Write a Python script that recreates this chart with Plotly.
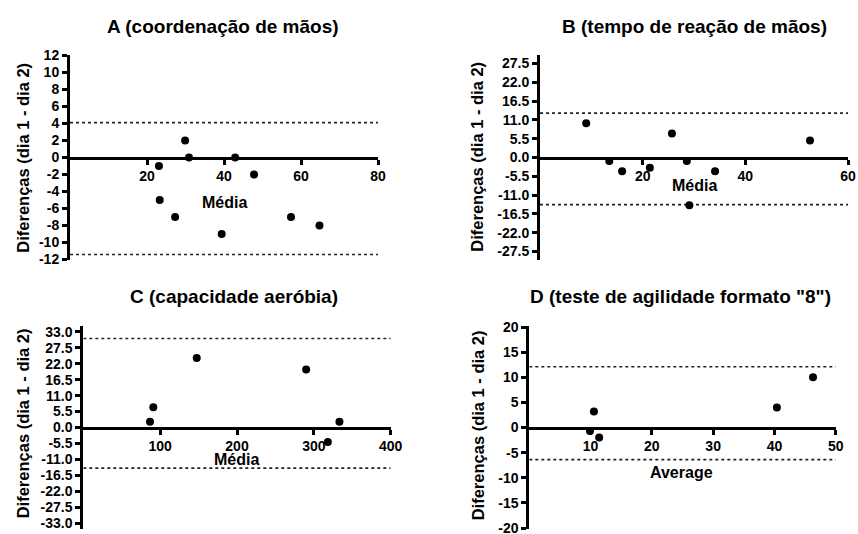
import plotly.graph_objects as go

# target picture size
W, H = 858, 534

# ---------------- data ----------------
A_title = "A (coordenação de mãos)"
A_x = [23.1, 23.3, 27.3, 29.9, 30.9, 39.4, 42.9, 47.8, 57.4, 64.8]
A_y = [-1, -5, -7, 2, 0, -9, 0, -2, -7, -8]
A_limits = [4.1, -11.4]
A_xticks = [20, 40, 60, 80]
A_yticks = [-12, -10, -8, -6, -4, -2, 0, 2, 4, 6, 8, 10, 12]

B_title = "B (tempo de reação de mãos)"
B_x = [9.0, 13.5, 16.0, 21.4, 25.7, 28.6, 29.1, 34.1, 52.6]
B_y = [10, -1, -4, -3, 7, -1, -14, -4, 5]
B_limits = [13.0, -13.8]
B_xticks = [20, 40, 60]
B_yticks = [-27.5, -22.0, -16.5, -11.0, -5.5, 0.0, 5.5, 11.0, 16.5, 22.0, 27.5]

C_title = "C (capacidade aeróbia)"
C_x = [86.8, 91.1, 147.6, 290.0, 318.2, 333.3]
C_y = [2, 7, 24, 20, -5, 2]
C_limits = [30.7, -14.0]
C_xticks = [100, 200, 300, 400]
C_yticks = [-33.0, -27.5, -22.0, -16.5, -11.0, -5.5, 0.0, 5.5, 11.0, 16.5, 22.0, 27.5, 33.0]

D_title = 'D (teste de agilidade formato "8")'
D_x = [9.9, 10.55, 11.4, 40.4, 46.3]
D_y = [-0.7, 3.2, -2, 4, 10]
D_limits = [12.1, -6.4]
D_xticks = [10, 20, 30, 40, 50]
D_yticks = [-20, -15, -10, -5, 0, 5, 10, 15, 20]

y_label = "Diferenças (dia 1 - dia 2)"
x_labels = ["Média", "Média", "Média", "Average"]

# ---------------- layout helpers ----------------
def px_x(p):
    return p / W

def px_y(p):
    return 1 - p / H

FONT = "Liberation Sans, Arial, Helvetica, sans-serif"

def fmt_tick(v, f):
    s = format(v, f) if f else format(v, "g")
    return "<b>" + s + "</b>"

panels = [
    dict(title=A_title, x=A_x, y=A_y, lim=A_limits, xt=A_xticks, yt=A_yticks,
         xr=[0, 80], yr=[-12.05, 12.05], dom_x=(70, 378), dom_y=(55, 260), fmt=None,
         title_pos=(223, 26), ylab_pos=(22.7, 158), xlab_pos=(224, 202)),
    dict(title=B_title, x=B_x, y=B_y, lim=B_limits, xt=B_xticks, yt=B_yticks,
         xr=[0, 60], yr=[-30, 30], dom_x=(540, 848), dom_y=(55, 260), fmt=".1f",
         title_pos=(694.5, 26), ylab_pos=(476.7, 157), xlab_pos=(694, 185)),
    dict(title=C_title, x=C_x, y=C_y, lim=C_limits, xt=C_xticks, yt=C_yticks,
         xr=[0, 400], yr=[-35, 35], dom_x=(83.3, 390.7), dom_y=(326, 529), fmt=".1f",
         title_pos=(234, 296), ylab_pos=(23.3, 423), xlab_pos=(237, 459)),
    dict(title=D_title, x=D_x, y=D_y, lim=D_limits, xt=D_xticks, yt=D_yticks,
         xr=[0, 50], yr=[-20.2, 20.2], dom_x=(529.3, 835.7), dom_y=(326, 529), fmt=None,
         title_pos=(680.5, 296), ylab_pos=(478.3, 425), xlab_pos=(681, 472)),
]

fig = go.Figure()
annotations = []
layout_axes = {}

for i, p in enumerate(panels, start=1):
    xa = "x" if i == 1 else f"x{i}"
    ya = "y" if i == 1 else f"y{i}"
    xkey = "xaxis" if i == 1 else f"xaxis{i}"
    ykey = "yaxis" if i == 1 else f"yaxis{i}"

    # limits of agreement (dotted)
    for lv in p["lim"]:
        fig.add_trace(go.Scatter(
            x=[p["xr"][0], p["xr"][1]], y=[lv, lv], mode="lines",
            line=dict(color="#222222", width=1.6, dash="dot"),
            xaxis=xa, yaxis=ya, showlegend=False, hoverinfo="skip"))
    # points
    fig.add_trace(go.Scatter(
        x=p["x"], y=p["y"], mode="markers",
        marker=dict(color="black", size=8),
        xaxis=xa, yaxis=ya, showlegend=False, cliponaxis=False))

    dy0, dy1 = px_y(p["dom_y"][1]), px_y(p["dom_y"][0])
    tick_font = dict(family=FONT, size=14, color="black")
    layout_axes[xkey] = dict(
        domain=[px_x(p["dom_x"][0]), min(1.0, px_x(p["dom_x"][1]))],
        range=p["xr"], anchor="free", position=(dy0 + dy1) / 2,
        tickmode="array", tickvals=p["xt"],
        ticktext=[fmt_tick(v, None) for v in p["xt"]],
        ticks="outside", ticklen=5, tickwidth=2.5, tickcolor="black",
        showline=True, linecolor="black", linewidth=3,
        showgrid=False, zeroline=False, automargin=False,
        ticklabeloverflow="allow",
        tickfont=tick_font,
    )
    layout_axes[ykey] = dict(
        domain=[max(0.0, dy0), dy1], range=p["yr"], anchor=xa,
        tickmode="array", tickvals=p["yt"],
        ticktext=[fmt_tick(v, p["fmt"]) for v in p["yt"]],
        ticks="outside", ticklen=5, tickwidth=2.5, tickcolor="black",
        showline=True, linecolor="black", linewidth=3,
        showgrid=False, zeroline=False, automargin=False,
        ticklabeloverflow="allow",
        tickfont=tick_font,
    )

    annotations.append(dict(
        text="<b>" + p["title"] + "</b>", xref="paper", yref="paper",
        x=px_x(p["title_pos"][0]), y=px_y(p["title_pos"][1]),
        xanchor="center", yanchor="middle", showarrow=False,
        font=dict(family=FONT, size=19, color="black")))
    annotations.append(dict(
        text="<b>" + y_label + "</b>", xref="paper", yref="paper",
        x=px_x(p["ylab_pos"][0]), y=px_y(p["ylab_pos"][1]),
        xanchor="center", yanchor="middle", showarrow=False, textangle=-90,
        font=dict(family=FONT, size=16.5, color="black")))
    annotations.append(dict(
        text="<b>" + x_labels[i - 1] + "</b>", xref="paper", yref="paper",
        x=px_x(p["xlab_pos"][0]), y=px_y(p["xlab_pos"][1]),
        xanchor="center", yanchor="middle", showarrow=False,
        font=dict(family=FONT, size=16, color="black")))

fig.update_layout(
    width=W, height=H,
    margin=dict(l=0, r=0, t=0, b=0, autoexpand=False),
    paper_bgcolor="white", plot_bgcolor="white",
    annotations=annotations,
    **layout_axes,
)

fig.write_html(
    "out.html",
    config={"displayModeBar": False},
    post_script="document.body.style.margin='0px';document.body.style.overflow='hidden';",
)
